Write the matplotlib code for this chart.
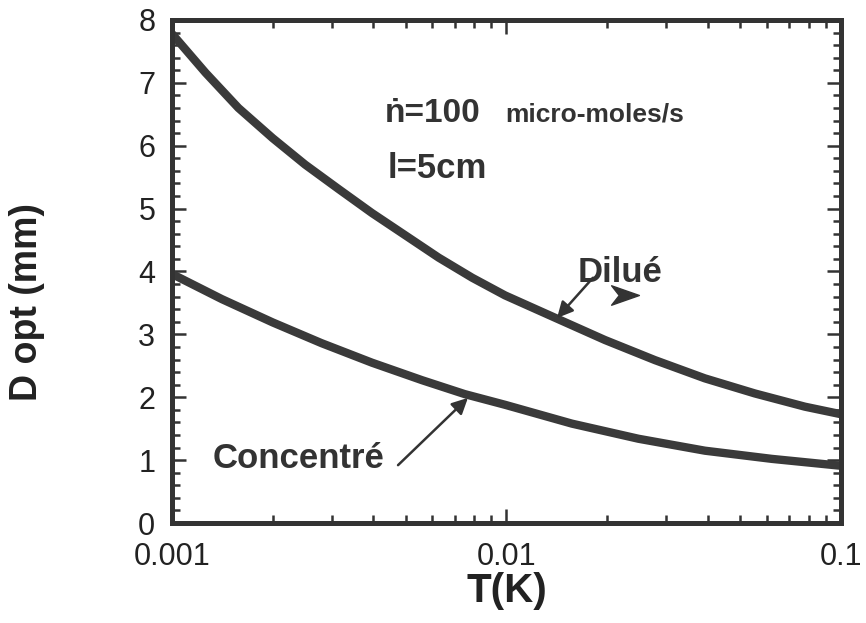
import matplotlib
matplotlib.use("Agg")
import matplotlib.pyplot as plt
import numpy as np
from matplotlib.ticker import LogLocator, MultipleLocator, FixedFormatter, FixedLocator
from matplotlib.path import Path

plt.rcParams['font.family'] = ['Liberation Sans', 'DejaVu Sans']

# courbes
t_dilue = [0.001, 0.00126, 0.00158, 0.002, 0.0025, 0.00315, 0.00396, 0.005, 0.00627, 0.0079,
           0.0099, 0.0143, 0.0197, 0.0278, 0.0392, 0.0553, 0.078, 0.1]
d_dilue = [7.78, 7.16, 6.60, 6.12, 5.70, 5.31, 4.93, 4.57, 4.22, 3.90,
           3.62, 3.24, 2.91, 2.59, 2.30, 2.06, 1.85, 1.73]

t_conc = [0.001, 0.00141, 0.002, 0.0028, 0.00396, 0.0056, 0.0075, 0.0099,
          0.0157, 0.0248, 0.0392, 0.0621, 0.1]
d_conc = [3.96, 3.56, 3.19, 2.86, 2.55, 2.27, 2.05, 1.88,
          1.58, 1.34, 1.15, 1.02, 0.91]

x_ticks = [0.001, 0.01, 0.1]
x_ticklabels = ['0.001', '0.01', '0.1']

ink = '#333333'

fig = plt.figure(figsize=(8.66, 6.23), dpi=100)
ax = fig.add_axes([0.1986, 0.1605, 0.7725, 0.8075])

ax.plot(t_dilue, d_dilue, color='#3a3a3a', lw=6, solid_capstyle='butt', solid_joinstyle='round')
ax.plot(t_conc, d_conc, color='#3a3a3a', lw=6, solid_capstyle='butt', solid_joinstyle='round')

ax.set_xscale('log')
ax.set_xlim(0.001, 0.1)
ax.set_ylim(0, 8)

ax.xaxis.set_major_locator(FixedLocator(x_ticks))
ax.xaxis.set_major_formatter(FixedFormatter(x_ticklabels))
ax.xaxis.set_minor_locator(LogLocator(base=10, subs=np.arange(2, 10)))
ax.xaxis.set_minor_formatter(FixedFormatter([]))
ax.yaxis.set_major_locator(MultipleLocator(1))
ax.yaxis.set_minor_locator(MultipleLocator(0.2))

for s in ax.spines.values():
    s.set_linewidth(3.6)
    s.set_color(ink)

ax.tick_params(which='both', direction='in', top=True, right=True, color=ink)
ax.tick_params(which='major', length=10, width=1.8, pad=14, labelsize=22, labelcolor='#222222')
ax.tick_params(axis='y', which='major', pad=12)
ax.tick_params(which='minor', length=6, width=1.8)

ax.set_xlabel('T(K)', fontsize=29, fontweight='bold', color='#222222', labelpad=0)
ax.set_ylabel('D opt (mm)', fontsize=27, fontweight='bold', color='#222222')
ax.yaxis.set_label_coords(-0.19, 0.44)

txt = dict(fontweight='bold', color=ink, ha='left', va='baseline')
ax.text(0.00433, 6.38, 'ṅ=100', fontsize=24, **txt)
ax.text(0.0099, 6.38, 'micro-moles/s', fontsize=19, **txt)
ax.text(0.00442, 5.48, 'l=5cm', fontsize=25, **txt)
ax.text(0.01637, 3.83, 'Dilué', fontsize=25, **txt)
ax.text(0.001327, 0.87, 'Concentré', fontsize=25, **txt)

arrow = dict(arrowstyle='-|>', color=ink, lw=1.8, mutation_scale=24, shrinkA=0, shrinkB=0)
ax.annotate('', xy=(0.01416, 3.26), xytext=(0.01814, 3.9), arrowprops=arrow)
ax.annotate('', xy=(0.00767, 1.99), xytext=(0.00474, 0.92), arrowprops=arrow)

# petite pointe isolée à droite de "Dilué"
dart = Path([(-1, -0.7), (1, 0), (-1, 0.7), (-0.45, 0), (-1, -0.7)],
            [Path.MOVETO, Path.LINETO, Path.LINETO, Path.LINETO, Path.CLOSEPOLY])
ax.plot([0.0226], [3.62], marker=dart, markersize=20, color=ink, ls='none')

fig.savefig('out.png', dpi=100)
